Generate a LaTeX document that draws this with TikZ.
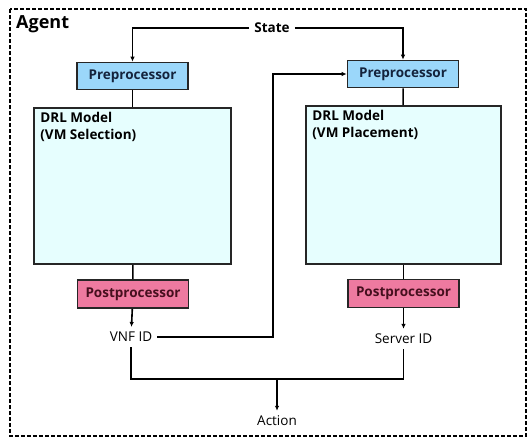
\documentclass[tikz,border=0pt]{standalone}
\usepackage{fontspec}
\setmainfont{Open Sans}
\usetikzlibrary{arrows.meta}

\definecolor{preblue}{RGB}{155,215,250}
\definecolor{postpink}{RGB}{238,122,160}
\definecolor{drlcyan}{RGB}{230,254,254}
\definecolor{pretext}{RGB}{20,35,60}
\definecolor{posttext}{RGB}{70,15,30}

\begin{document}
\begin{tikzpicture}[
    x=1pt,y=-1pt,
    >={Latex[length=5pt,width=4.5pt]},
    every node/.style={font=\fontsize{13.5}{16}\selectfont},
    flow/.style={draw=black,line width=1.6pt},
    agentbox/.style={draw=black,line width=1.3pt,dash pattern=on 4pt off 2pt},
    pre/.style={rectangle,draw=black!85,line width=1.6pt,fill=preblue,
        minimum width=111pt,minimum height=27pt,inner sep=0pt,
        font=\fontsize{13.5}{16}\selectfont\bfseries,text=pretext},
    post/.style={rectangle,draw=black!85,line width=1.6pt,fill=postpink,
        minimum width=111pt,minimum height=28pt,inner sep=0pt,
        font=\fontsize{13.5}{16}\selectfont\bfseries,text=posttext},
    model/.style={rectangle,draw=black!85,line width=1.6pt,fill=drlcyan,inner sep=0pt},
    modeltext/.style={anchor=north west,align=left,inner xsep=7pt,inner ysep=5pt,
        font=\fontsize{13.5}{16.5}\selectfont\bfseries},
    signal/.style={inner sep=5pt,font=\fontsize{13.5}{16}\selectfont},
]
\useasboundingbox (0,0) rectangle (529,440);

% Agent frame
\draw[agentbox] (10,9) rectangle (526,436);
\node[anchor=west,inner sep=0pt,font=\fontsize{18}{20}\selectfont\bfseries] (agent) at (16,24) {Agent};

% Input
\node[signal,font=\fontsize{13.5}{16}\selectfont\bfseries] (state) at (272,28) {State};

% VM selection branch
\node[pre] (preL) at (132.5,76) {Preprocessor};
\node[model,minimum width=197pt,minimum height=156pt] (drlL) at (132.5,186) {};
\node[modeltext] (drlLtext) at (drlL.north west) {DRL Model\\(VM Selection)};
\node[post] (postL) at (133,294) {Postprocessor};
\node[signal] (vnf) at (131,337) {VNF ID};

% VM placement branch
\node[pre] (preR) at (403,74) {Preprocessor};
\node[model,minimum width=195pt,minimum height=158pt] (drlR) at (403.5,185) {};
\node[modeltext] (drlRtext) at (drlR.north west) {DRL Model\\(VM Placement)};
\node[post] (postR) at (403.5,293.5) {Postprocessor};
\node[signal] (server) at (403.5,339) {Server ID};

% Output
\coordinate (join) at (277,379);
\coordinate (feedback) at (273,337);
\node[signal] (action) at (277,421) {Action};

% Connections
\draw[flow,->] (state.west) -| (preL.north);
\draw[flow,->] (state.east) -| (preR.north);
\draw[flow] (preL) -- (drlL);
\draw[flow] (drlL) -- (postL);
\draw[flow,->] (postL) -- (vnf);
\draw[flow] (preR) -- (drlR);
\draw[flow] (drlR) -- (postR);
\draw[flow,->] (postR) -- (server);
\draw[flow,->] (vnf.east) -- (feedback) |- (preR.west);
\draw[flow] (vnf.south) |- (join) -| (server.south);
\draw[flow,->] (join) -- (action.north);

\end{tikzpicture}
\end{document}
